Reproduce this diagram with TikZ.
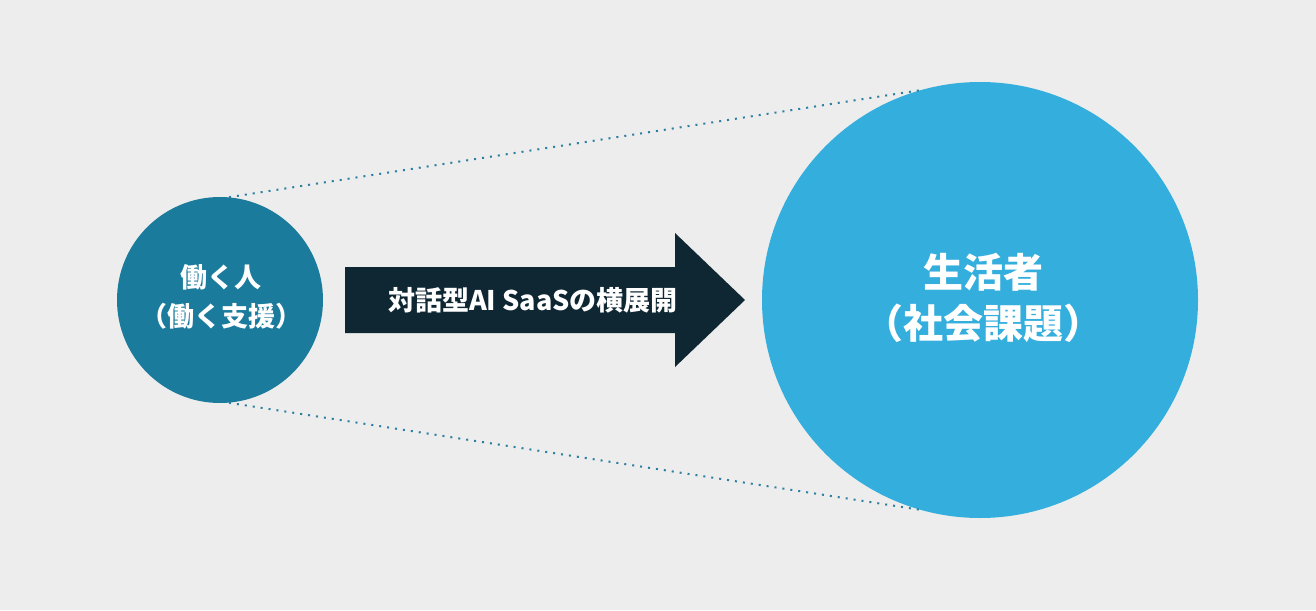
\documentclass[tikz,border=0pt]{standalone}
\usepackage{fontspec}
\setmainfont{Noto Sans CJK JP}
\usepackage{xcolor}
\definecolor{bgray}{HTML}{EDEDED}
\definecolor{workblue}{HTML}{1B7B9C}
\definecolor{lifeblue}{HTML}{33AEDD}
\definecolor{arrowdark}{HTML}{0E2733}
\definecolor{dotblue}{HTML}{2C7FA0}

\begin{document}
\begin{tikzpicture}[x=1pt, y=-1pt,
  circ/.style={circle, inner sep=0pt, align=center, text=white, font=\bfseries},
  small/.style={circ, fill=workblue, minimum size=206pt},
  big/.style={circ, fill=lifeblue, minimum size=436pt},
  shaft/.style={fill=arrowdark},
  link/.style={draw=dotblue, line width=2pt, dash pattern=on 2pt off 6pt}
]
\fill[bgray] (0,0) rectangle (1316,610);
\useasboundingbox (0,0) rectangle (1316,610);
\node[small] (work) at (220,300) {};
\node[big] (life) at (980,300) {};
\node[font=\fontsize{27}{39}\selectfont\bfseries, text=white, align=center] (worktxt) at (221,297) {働く人\\（働く支援）};
\node[font=\fontsize{40}{51}\selectfont\bfseries, text=white, align=center] (lifetxt) at (983,298) {生活者\\（社会課題）};
\fill[shaft] (345,267) -- (675,267) -- (675,233) -- (745,300) -- (675,367) -- (675,333) -- (345,333) -- cycle;
\node[font=\fontsize{27}{30}\selectfont\bfseries, text=white] (spread) at (533,300) {対話型AI SaaSの横展開};
\draw[link] (work.85.6) -- (life.106.8);
\draw[link] (work.-85.6) -- (life.-106.8);
\end{tikzpicture}
\end{document}
